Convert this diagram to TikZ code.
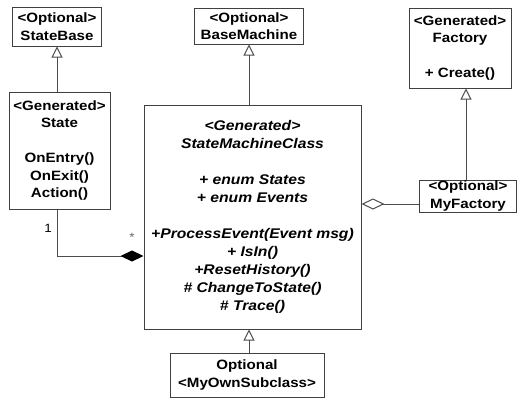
\documentclass[tikz,border=0pt]{standalone}
\usepackage{fontspec}
\setmainfont{Liberation Sans}[FakeStretch=1.12]
\usetikzlibrary{arrows.meta}
\begin{document}
\begin{tikzpicture}[x=1pt,y=-1pt,
    cls/.style={draw=black!75,line width=1pt,inner sep=0pt,align=center,
      font=\fontsize{13.5}{17.5}\selectfont\bfseries},
    inherit/.style={draw=black!70,line width=1pt,-{Triangle[open,length=11pt,width=11pt]}},
    comp/.style={draw=black!70,line width=1pt,-{Diamond[length=23pt,width=11pt,color=black,fill=black]}},
    aggr/.style={draw=black!70,line width=1pt,-{Diamond[open,length=23pt,width=11pt]}},
    mult/.style={font=\fontsize{12}{14}\selectfont}]
  \useasboundingbox (0,0) rectangle (529,405);
  \node[cls,minimum width=89pt,minimum height=39pt] (statebase) at (57,26.5) {<Optional>\\StateBase};
  \node[cls,minimum width=101pt,minimum height=117pt] (state) at (59.5,150.5)
    {<Generated>\\State\\[17.5pt]OnEntry()\\OnExit()\\Action()};
  \node[cls,minimum width=109pt,minimum height=36pt] (base) at (249,26) {<Optional>\\BaseMachine};
  \node[cls,minimum width=217pt,minimum height=224pt,font=\fontsize{14}{18}\selectfont\bfseries\itshape] (main) at (252.5,217)
    {<Generated>\\StateMachineClass\\[18pt]+ enum States\\+ enum Events\\[18pt]+ProcessEvent(Event msg)\\+ IsIn()\\+ResetHistory()\\\# ChangeToState()\\\# Trace()};
  \node[cls,minimum width=154pt,minimum height=44pt] (sub) at (247,375) {Optional\\<MyOwnSubclass>};
  \node[cls,minimum width=102pt,minimum height=80pt] (factory) at (460,48) {<Generated>\\Factory\\[17.5pt]+ Create()};
  \node[cls,minimum width=97pt,minimum height=32pt] (myfactory) at (468,196) {<Optional>\\MyFactory};
  \draw[inherit] (state.north -| statebase) -- (statebase.south);
  \draw[inherit] (main.north -| base) -- (base.south);
  \draw[inherit] (sub.north -| base) -- (main.south -| base);
  \draw[inherit] (myfactory.north -| 466,0) -- (factory.south -| 466,0);
  \draw[comp] (state.south -| statebase) |- ([yshift=-39pt]main.west);
  \draw[aggr] ([yshift=-8pt]myfactory.west) -- ([yshift=-8pt]myfactory.west -| main.east);
  \node[mult] (one) at (48,228) {1};
  \node[mult,black!60] (many) at (132,237) {*};
\end{tikzpicture}
\end{document}
